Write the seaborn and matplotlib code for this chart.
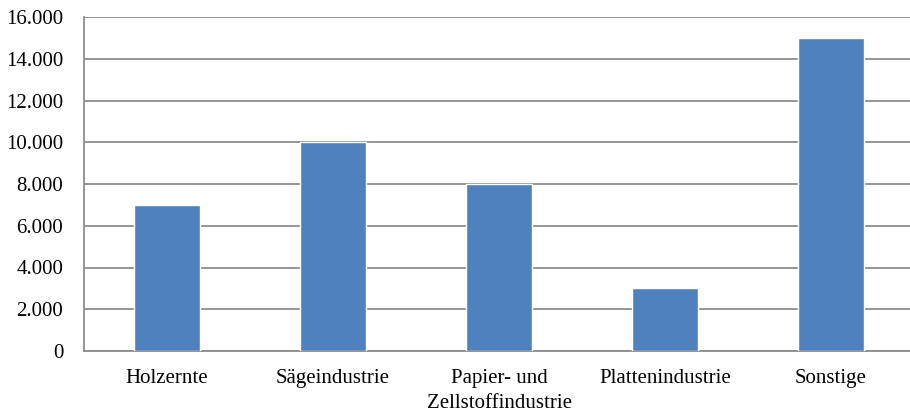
import matplotlib
matplotlib.use("Agg")
import matplotlib.pyplot as plt
import seaborn as sns
import pandas as pd
from matplotlib.ticker import FuncFormatter

categories = ["Holzernte", "Sägeindustrie", "Papier- und\nZellstoffindustrie", "Plattenindustrie", "Sonstige"]
values = [7000, 10000, 8000, 3000, 15000]

sns.set_style("white")
plt.rcParams["font.family"] = ["Liberation Serif", "DejaVu Serif"]

df = pd.DataFrame({"cat": categories, "val": values})

fig = plt.figure(figsize=(9.1, 4.12), dpi=100)
ax = fig.add_axes([84 / 910, (412 - 351) / 412, 830 / 910, 334 / 412])

sns.barplot(data=df, x="cat", y="val", color="#4F81BD", width=0.4, saturation=1, ax=ax, zorder=3)

ax.set_ylim(0, 16000)
ax.set_yticks(range(0, 16001, 2000))
ax.yaxis.set_major_formatter(FuncFormatter(lambda v, p: f"{int(v):,}".replace(",", ".")))
ax.grid(axis="y", color="#8c8c8c", linewidth=1.3, zorder=0)
ax.set_xlabel("")
ax.set_ylabel("")
for s in ["top", "right"]:
    ax.spines[s].set_visible(False)
for s in ["left", "bottom"]:
    ax.spines[s].set_color("#8c8c8c")
    ax.spines[s].set_linewidth(1.3)
ax.tick_params(axis="both", length=0, labelsize=15, colors="black")
ax.tick_params(axis="x", pad=13)
ax.tick_params(axis="y", pad=15)
for lbl in ax.get_xticklabels():
    lbl.set_linespacing(1.45)

fig.savefig("out.png", dpi=100)
